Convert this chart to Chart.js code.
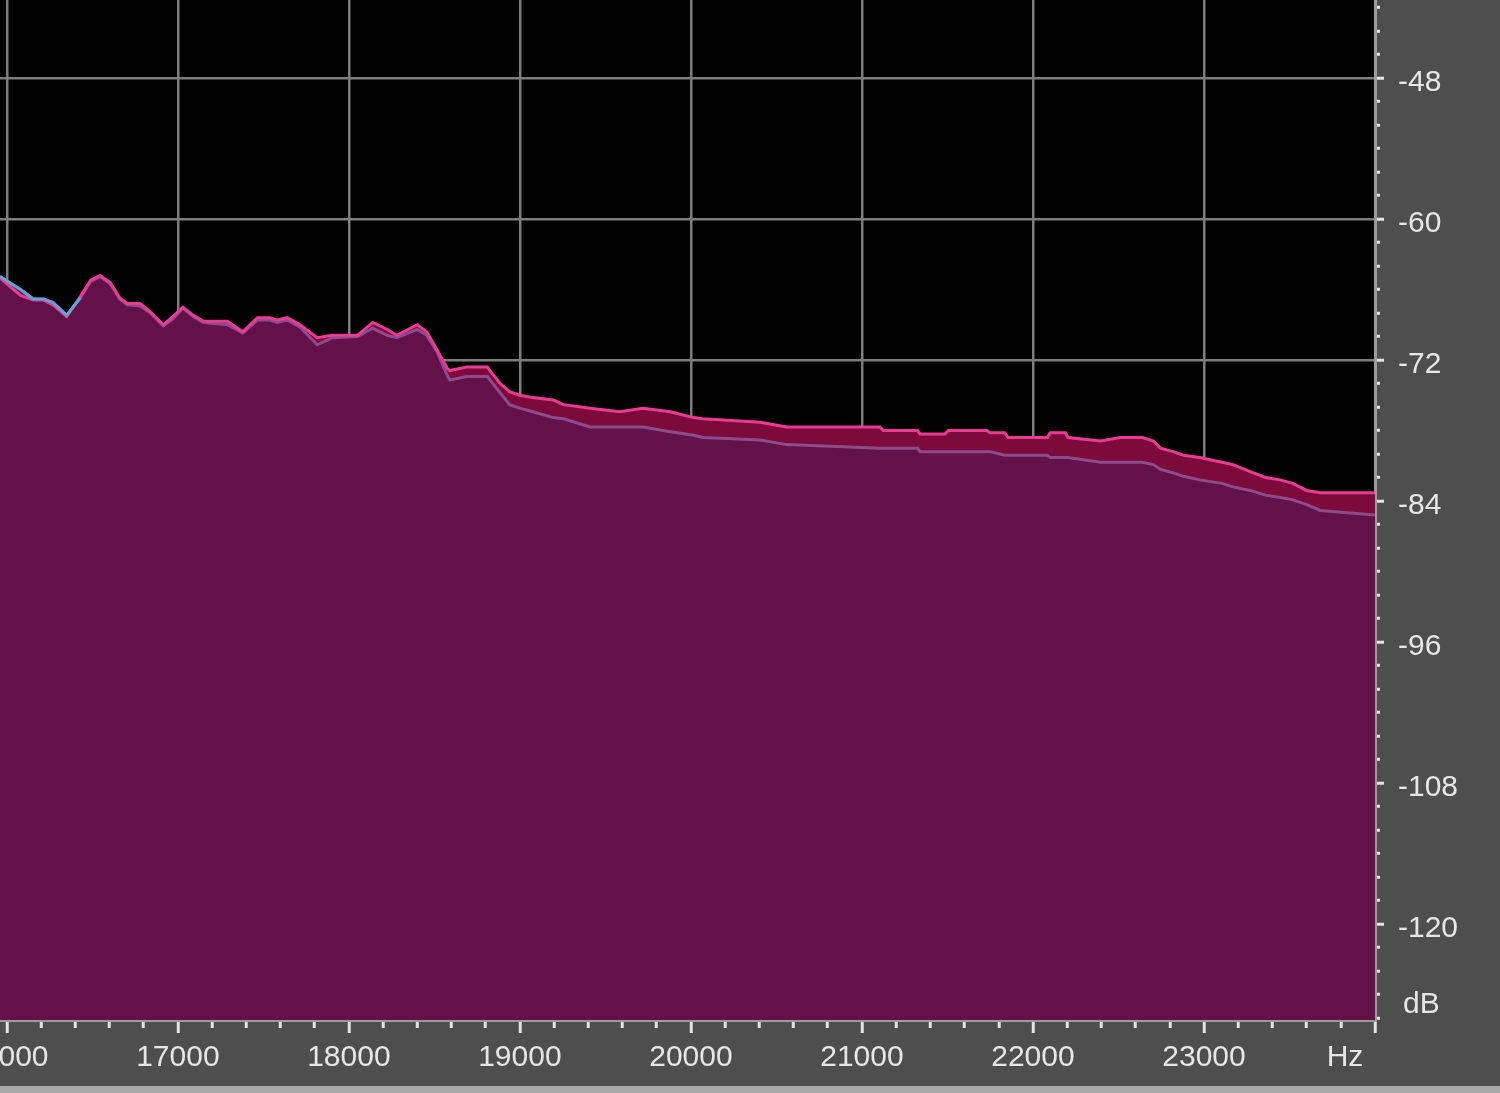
<!DOCTYPE html>
<html><head><meta charset="utf-8">
<script src="https://cdn.jsdelivr.net/npm/chart.js@4"></script>
<style>
html,body{margin:0;padding:0;background:#4e4e4e;overflow:hidden;width:1500px;height:1093px;}
#wrap{position:absolute;left:-100px;top:0;width:1600px;height:1093px;}
#strip{position:absolute;left:0;top:1086px;width:1500px;height:7px;background:#a9a9a9;}
</style></head><body>
<div id="wrap"><canvas id="c" width="1600" height="1093"></canvas></div>
<div id="strip"></div>
<script>
// Frequency bins (Hz)
const frequencies = [15960,16080,16155,16215,16270,16350,16430,16490,16545,16605,16660,16705,16780,16840,16915,16970,
17030,17090,17150,17290,17380,17465,17540,17580,17640,17715,17815,17905,18050,18140,18225,18280,18400,18455,18515,18575,
18590,18690,18810,18825,18885,18940,19000,19075,19195,19255,19410,19585,19720,19880,20015,20070,20405,20560,21105,21125,
21325,21340,21485,21505,21730,21750,21835,21855,22085,22100,22190,22205,22395,22510,22640,22705,22745,22820,22880,22975,
23105,23170,23270,23360,23445,23520,23600,23680,24000];
// Upper (pink) spectrum, dB
const upperDb = [-65.0,-66.5,-66.9,-66.9,-67.3,-68.3,-66.6,-65.2,-64.8,-65.4,-66.7,-67.2,-67.2,-67.9,-69.0,-68.3,
-67.5,-68.2,-68.7,-68.7,-69.6,-68.4,-68.4,-68.6,-68.4,-69.0,-70.1,-69.9,-69.9,-68.8,-69.4,-69.9,-69.0,-69.6,-71.1,-72.7,
-72.9,-72.6,-72.6,-72.9,-74.0,-74.7,-75.0,-75.2,-75.4,-75.8,-76.1,-76.4,-76.1,-76.4,-76.9,-77.0,-77.3,-77.7,-77.7,-78.0,
-78.0,-78.3,-78.3,-78.0,-78.0,-78.2,-78.2,-78.6,-78.6,-78.2,-78.2,-78.6,-78.9,-78.6,-78.6,-78.9,-79.5,-79.8,-80.1,-80.3,
-80.7,-80.9,-81.5,-82.0,-82.2,-82.5,-83.1,-83.3,-83.3];
// Lower (blue/lavender) spectrum, dB
const lowerDb = [-64.9,-66.0,-66.8,-66.8,-67.1,-68.2,-66.7,-65.3,-64.9,-65.5,-66.8,-67.3,-67.4,-68.0,-69.1,-68.5,
-67.6,-68.3,-68.8,-69.0,-69.7,-68.6,-68.6,-68.8,-68.6,-69.2,-70.7,-70.1,-70.0,-69.3,-69.9,-70.1,-69.4,-69.9,-71.3,-73.3,
-73.7,-73.4,-73.4,-73.7,-74.8,-75.8,-76.1,-76.4,-76.9,-77.0,-77.7,-77.7,-77.7,-78.1,-78.4,-78.6,-78.8,-79.2,-79.5,-79.5,
-79.5,-79.8,-79.8,-79.8,-79.8,-79.8,-80.1,-80.1,-80.1,-80.3,-80.3,-80.3,-80.7,-80.7,-80.7,-80.9,-81.3,-81.6,-81.9,-82.2,
-82.5,-82.8,-83.1,-83.5,-83.7,-83.9,-84.3,-84.8,-85.2];
// Axis labels
const freqLabels = [16000,17000,18000,19000,20000,21000,22000,23000];
const dbLabels = [-48,-60,-72,-84,-96,-108,-120];
const freqUnit = 'Hz';
const dbUnit = 'dB';

const FONT = {family:'"Liberation Sans", Arial, sans-serif', size:30};
const TEXT = '#e6e6e6';

const upperPts = frequencies.map((f,i)=>({x:f,y:upperDb[i]}));
const lowerPts = frequencies.map((f,i)=>({x:f,y:lowerDb[i]}));
// part of the lower trace that rises above the upper one (shown in blue)
const lowerAbovePts = frequencies.map((f,i)=>({x:f,y:(lowerDb[i] > upperDb[i] || (i>0 && lowerDb[i-1] > upperDb[i-1])) ? lowerDb[i] : null}));

const bgPlugin = {
  id:'bg',
  beforeDraw(chart){
    const {ctx, chartArea:a} = chart;
    ctx.save();
    ctx.fillStyle = '#4e4e4e';
    ctx.fillRect(0,0,chart.width,chart.height);
    ctx.fillStyle = '#000';
    ctx.fillRect(a.left,a.top,a.right-a.left,a.bottom-a.top);
    ctx.restore();
  },
  afterDraw(chart){
    const {ctx} = chart;
    const xs = chart.scales.x, ys = chart.scales.y;
    ctx.save();
    ctx.font = FONT.size + 'px ' + FONT.family;
    ctx.fillStyle = TEXT;
    ctx.textBaseline = 'middle';
    ctx.textAlign = 'center';
    ctx.fillText(freqUnit, xs.getPixelForValue(24000) - 30, 1058);
    ctx.textAlign = 'left';
    ctx.fillText(dbUnit, ys.right - 97, 1005);
    ctx.restore();
  }
};

new Chart(document.getElementById('c'), {
  type:'line',
  data:{datasets:[
    {data:lowerAbovePts, borderColor:'#5aa6d8', borderWidth:3, fill:false, pointRadius:0, tension:0, spanGaps:false},
    {data:upperPts, borderColor:'#ea3a93', borderWidth:3, fill:false, pointRadius:0, tension:0},
    {data:lowerPts, borderColor:'#8c4c8c', borderWidth:3, backgroundColor:'#641049', fill:'start', pointRadius:0, tension:0},
    {data:upperPts, borderWidth:0, borderColor:'rgba(0,0,0,0)', backgroundColor:'#7c0a3a', fill:'start', pointRadius:0, tension:0}
  ]},
  options:{
    responsive:false, animation:false, devicePixelRatio:1,
    layout:{padding:{left:100,top:0,right:0,bottom:0}},
    plugins:{legend:{display:false}, tooltip:{enabled:false}},
    scales:{
      x:{type:'linear', position:'bottom', min:15960, max:24000,
        afterBuildTicks(s){ const t=[]; for(let v=16000; v<=24000; v+=200) t.push({value:v}); s.ticks=t; },
        afterFit(s){ s.height=73; s.paddingLeft=0; s.paddingRight=0; },
        ticks:{autoSkip:false, maxRotation:0, minRotation:0, padding:7, color:TEXT, font:FONT,
          callback:v => freqLabels.includes(v) ? String(v) : ''},
        grid:{color:c => (c.tick && freqLabels.includes(c.tick.value)) ? '#7d7d7d' : 'rgba(0,0,0,0)',
          lineWidth:2.5, drawTicks:true, tickLength:13, tickColor:'#e4e4e4', tickWidth:3,
          tickBorderDash:c => (c.tick && c.tick.value % 1000 === 0) ? [] : [6,60]},
        border:{display:true, color:'#9c9c9c', width:3}
      },
      y:{type:'linear', position:'right', min:-128.17, max:-41.36,
        afterBuildTicks(s){ const t=[]; for(let v=-128; v<=-42; v+=2) t.push({value:v}); s.ticks=t; },
        afterFit(s){ s.width=125; s.paddingTop=0; s.paddingBottom=0; },
        ticks:{autoSkip:false, padding:14, labelOffset:5, color:TEXT, font:FONT,
          callback:v => dbLabels.includes(v) ? String(v) : ''},
        grid:{color:c => (c.tick && dbLabels.includes(c.tick.value)) ? '#7d7d7d' : 'rgba(0,0,0,0)',
          lineWidth:2.5, drawTicks:true, tickLength:9, tickColor:'#e4e4e4', tickWidth:3,
          tickBorderDash:c => (c.tick && c.tick.value % 12 === 0) ? [] : [3,60]},
        border:{display:true, color:'#9c9c9c', width:3}
      }
    }
  },
  plugins:[bgPlugin]
});
</script>
</body></html>
